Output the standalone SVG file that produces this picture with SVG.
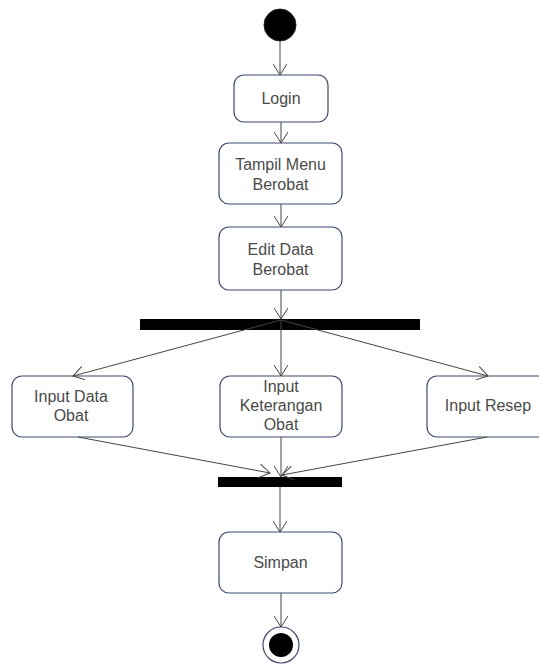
<svg xmlns="http://www.w3.org/2000/svg" width="539" height="664" viewBox="0 0 539 664">
<defs>
<marker id="arr" viewBox="0 0 12 14" refX="11" refY="7" markerWidth="12" markerHeight="14" markerUnits="userSpaceOnUse" orient="auto">
<path d="M0,0 L11,7 L0,14" fill="none" stroke="#444" stroke-width="1"/>
</marker>
<style>
.box{fill:#fff;stroke:#3d4a6e;stroke-width:1.2}
.t{font-family:"Liberation Sans",Arial,sans-serif;font-size:16px;fill:#4a4a4a;text-anchor:middle}
.c{fill:none;stroke:#444;stroke-width:1;marker-end:url(#arr)}
.bar{fill:#000}
</style>
</defs>
<rect width="539" height="664" fill="#fff"/>
<g id="start"><circle cx="280" cy="25" r="16" fill="#000" stroke="#1a2035"/></g>
<g id="login"><rect class="box" x="234" y="75" width="94" height="47" rx="10"/><text class="t" x="281" y="104">Login</text></g>
<g id="tampil"><rect class="box" x="219" y="143" width="123" height="61" rx="10"/><text class="t" x="280.5" y="170">Tampil Menu</text><text class="t" x="280.5" y="190">Berobat</text></g>
<g id="edit"><rect class="box" x="219" y="227" width="123" height="63" rx="10"/><text class="t" x="280.5" y="255">Edit Data</text><text class="t" x="280.5" y="275">Berobat</text></g>
<g id="fork"><rect class="bar" x="140" y="319" width="280" height="11"/></g>
<g id="inputData"><rect class="box" x="12" y="376" width="121" height="61" rx="10"/><text class="t" x="71" y="402">Input Data</text><text class="t" x="71" y="421">Obat</text></g>
<g id="inputKet"><rect class="box" x="220" y="376" width="122" height="61" rx="10"/><text class="t" x="281" y="392">Input</text><text class="t" x="281" y="411">Keterangan</text><text class="t" x="281" y="430">Obat</text></g>
<g id="inputResep"><rect class="box" x="427" y="376" width="121" height="61" rx="10"/><text class="t" x="488" y="411">Input Resep</text></g>
<g id="join"><rect class="bar" x="218" y="477" width="124" height="10"/></g>
<g id="simpan"><rect class="box" x="219" y="532" width="123" height="61" rx="10"/><text class="t" x="280.5" y="568">Simpan</text></g>
<g id="end"><circle cx="281" cy="645" r="18" fill="#fff" stroke="#3d4a6e" stroke-width="1.2"/><circle cx="281" cy="645" r="12" fill="#000"/></g>
<g id="connectors">
<path class="c" d="M280,41 L280,75"/>
<path class="c" d="M281,122 L281,143"/>
<path class="c" d="M281,204 L281,227"/>
<path class="c" d="M281,290 L281,319"/>
<path class="c" d="M281,320 L73,376"/>
<path class="c" d="M281,320 L281,376"/>
<path class="c" d="M281,320 L488,376"/>
<path class="c" d="M78,437 L270,473"/>
<path class="c" d="M281,437 L281,477"/>
<path class="c" d="M487,437 L282,475"/>
<path class="c" d="M280,487 L280,532"/>
<path class="c" d="M281,593 L281,627"/>
</g>
</svg>
